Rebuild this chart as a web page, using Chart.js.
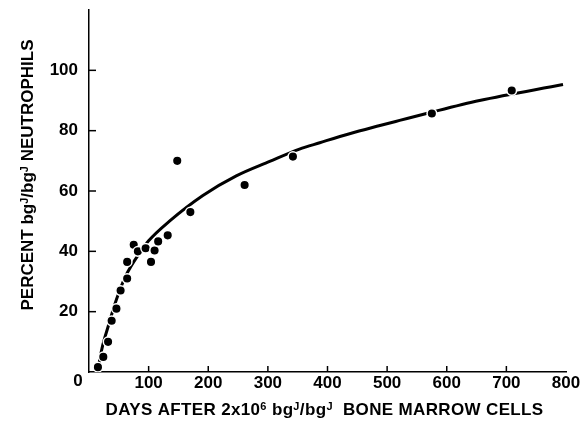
<!DOCTYPE html>
<html>
<head>
<meta charset="utf-8">
<script src="https://cdn.jsdelivr.net/npm/chart.js@4.4.1/dist/chart.umd.min.js"></script>
<style>
  html, body { margin: 0; padding: 0; background: #fff; }
  #wrap { width: 585px; height: 426px; }
</style>
</head>
<body>
<div id="wrap"><canvas id="c" width="585" height="426"></canvas></div>
<script>
// Observed points (days, percent)
const obsDays = [15, 24, 32, 38, 46, 53, 64, 64, 75, 82, 95, 104, 110, 116, 132, 148, 170, 261, 342, 575, 709];
const obsPct  = [1.6, 5, 10, 17, 21, 27, 31, 36.5, 42.2, 40, 41, 36.5, 40.3, 43.3, 45.3, 70, 53, 62, 71.4, 85.7, 93.3];
// Fitted curve
const curveDays = [15, 22, 32, 46, 62, 85, 100, 135, 191, 247, 303, 353, 387, 437, 488, 521, 566, 655, 795];
const curvePct  = [1, 8, 15, 24, 32, 39.5, 43.5, 50, 58.5, 65, 69.8, 73.9, 76, 79, 81.7, 83.4, 85.7, 90, 95.3];
// Axis ticks
const xTicks = [100, 200, 300, 400, 500, 600, 700];
const yTicks = [20, 40, 60, 80, 100];
const xTitleParts = [["DAYS AFTER 2x10", 0], ["6", 1], [" bg", 0], ["J", 1], ["/bg", 0], ["J", 1], ["  BONE MARROW CELLS", 0]];
const yTitleParts = [["PERCENT bg", 0], ["J", 1], ["/bg", 0], ["J", 1], [" NEUTROPHILS", 0]];

const FONT = "'Liberation Sans', Arial, sans-serif";

function drawParts(ctx, parts, size, supSize, spacing) {
  ctx.letterSpacing = spacing + 'px';
  let total = 0;
  const widths = parts.map(([t, s]) => {
    ctx.font = "bold " + (s ? supSize : size) + "px " + FONT;
    const w = ctx.measureText(t).width;
    total += w;
    return w;
  });
  let x = -total / 2;
  parts.forEach(([t, s], i) => {
    ctx.font = "bold " + (s ? supSize : size) + "px " + FONT;
    ctx.fillText(t, x, s ? -5 : 0);
    x += widths[i];
  });
  ctx.letterSpacing = '0px';
}

const extras = {
  id: 'extras',
  afterDraw(chart) {
    const ctx = chart.ctx;
    const xs = chart.scales.x, ys = chart.scales.y;
    const ca = chart.chartArea;
    ctx.save();
    ctx.strokeStyle = '#000';
    ctx.lineWidth = 1.5;
    // inward tick marks
    yTicks.forEach(v => {
      const py = ys.getPixelForValue(v);
      ctx.beginPath(); ctx.moveTo(ca.left, py); ctx.lineTo(ca.left + 7, py); ctx.stroke();
    });
    xTicks.forEach(v => {
      const px = xs.getPixelForValue(v);
      ctx.beginPath(); ctx.moveTo(px, ca.bottom); ctx.lineTo(px, ca.bottom - 6); ctx.stroke();
    });
    ctx.fillStyle = '#000';
    // shared origin label
    ctx.font = "bold 17px " + FONT;
    ctx.textAlign = 'center';
    ctx.textBaseline = 'middle';
    ctx.fillText('0', xs.getPixelForValue(0) - 11, ca.bottom + 9);
    // titles
    ctx.textAlign = 'left';
    ctx.textBaseline = 'alphabetic';
    ctx.save();
    ctx.translate((ca.left + ca.right) / 2 - 3, 415);
    drawParts(ctx, xTitleParts, 17, 11, 0.35);
    ctx.restore();
    ctx.save();
    ctx.translate(33, 175);
    ctx.rotate(-Math.PI / 2);
    drawParts(ctx, yTitleParts, 17, 11, 0);
    ctx.restore();
    ctx.restore();
  }
};

new Chart(document.getElementById('c'), {
  data: {
    datasets: [
      {
        type: 'scatter',
        data: obsDays.map((d, i) => ({ x: d, y: obsPct[i] })),
        backgroundColor: '#000',
        borderColor: '#fff',
        borderWidth: 1.5,
        pointRadius: 4.8,
        pointHoverRadius: 4.8
      },
      {
        type: 'line',
        data: curveDays.map((d, i) => ({ x: d, y: curvePct[i] })),
        borderColor: '#000',
        borderWidth: 3,
        pointRadius: 0,
        fill: false,
        cubicInterpolationMode: 'monotone'
      }
    ]
  },
  options: {
    responsive: false,
    animation: false,
    events: [],
    layout: { padding: { left: 0, top: 10, right: 19, bottom: 0 } },
    plugins: { legend: { display: false }, tooltip: { enabled: false } },
    scales: {
      x: {
        type: 'linear', min: 0, max: 800,
        afterFit: s => { s.height = 54; s.paddingLeft = 0; s.paddingRight = 0; },
        grid: { display: false, drawTicks: false },
        border: { display: true, color: '#000', width: 1.5 },
        ticks: {
          stepSize: 100, padding: 1, color: '#000',
          font: { family: FONT, size: 17, weight: 'bold' },
          callback: v => (v === 0 ? '' : String(v))
        }
      },
      y: {
        type: 'linear', min: 0, max: 120,
        afterFit: s => { s.width = 89; s.paddingTop = 0; s.paddingBottom = 0; },
        grid: { display: false, drawTicks: false },
        border: { display: true, color: '#000', width: 1.5 },
        ticks: {
          stepSize: 20, padding: 11, color: '#000',
          font: { family: FONT, size: 17, weight: 'bold' },
          callback: v => (yTicks.includes(v) ? String(v) : '')
        }
      }
    }
  },
  plugins: [extras]
});
</script>
</body>
</html>
